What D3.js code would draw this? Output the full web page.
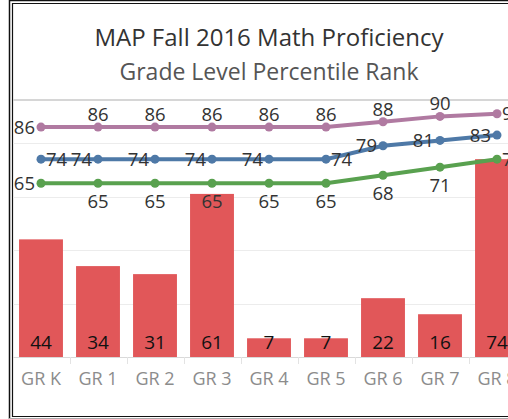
<!DOCTYPE html>
<html>
<head>
<meta charset="utf-8">
<script src="https://cdn.jsdelivr.net/npm/d3@7"></script>
<style>
  body { margin: 0; background: #fff; }
  svg { display: block; font-family: "Open Sans", sans-serif; }
</style>
</head>
<body>
<div id="chart"></div>
<script>
// chart values
var grades = ["GR K", "GR 1", "GR 2", "GR 3", "GR 4", "GR 5", "GR 6", "GR 7", "GR 8"];
var barValues = [44, 34, 31, 61, 7, 7, 22, 16, 74];
var pinkValues = [86, 86, 86, 86, 86, 86, 88, 90, 91];
var blueValues = [74, 74, 74, 74, 74, 74, 79, 81, 83];
var greenValues = [65, 65, 65, 65, 65, 65, 68, 71, 74];
var gridTicks = [20, 40, 60, 80];

var width = 508, height = 419;
var svg = d3.select("#chart").append("svg")
  .attr("width", width)
  .attr("height", height);

// frame lines
svg.append("path").attr("d", "M9.5,419 V0.5 H508").attr("fill", "none").attr("stroke", "#111").attr("stroke-width", 1.5);
svg.append("path").attr("d", "M508,3.5 H12.5 V416.5 H508").attr("fill", "none").attr("stroke", "#111").attr("stroke-width", 1.2);
svg.append("line").attr("x1", 9).attr("x2", 508).attr("y1", 418.5).attr("y2", 418.5).attr("stroke", "#aaa");

// titles
var title_x = 269;
svg.append("text")
  .text("MAP Fall 2016 Math Proficiency")
  .attr("x", title_x).attr("y", 46)
  .attr("text-anchor", "middle")
  .style("font-size", "24px")
  .style("fill", "#333");
svg.append("text")
  .text("Grade Level Percentile Rank")
  .attr("x", title_x).attr("y", 80)
  .attr("text-anchor", "middle")
  .style("font-size", "23px")
  .style("fill", "#555");

// scales
var plot_top = 99, plot_bottom = 357;
var x = d3.scaleBand().domain(grades).range([12.5, 525.5]).paddingInner(0.23).paddingOuter(0.115);
var step = x.step();
var y = d3.scaleLinear().domain([0, 96.5]).range([plot_bottom, plot_top]);
var cx = function(g) { return x(g) + x.bandwidth() / 2; };

// gridlines
svg.append("g").selectAll("line").data(gridTicks).join("line")
  .attr("x1", 13).attr("x2", width)
  .attr("y1", function(d) { return Math.round(y(d)) + 0.5; })
  .attr("y2", function(d) { return Math.round(y(d)) + 0.5; })
  .attr("stroke", "#ececec");

// top pane border
svg.append("line").attr("x1", 13).attr("x2", width).attr("y1", plot_top + 1).attr("y2", plot_top + 1)
  .attr("stroke", "#d6d6d6").attr("stroke-width", 2);

// bars
var bars = grades.map(function(g, i) { return { g: g, v: barValues[i] }; });
svg.append("g").selectAll("rect").data(bars).join("rect")
  .attr("x", function(d) { return x(d.g); })
  .attr("width", x.bandwidth())
  .attr("y", function(d) { return y(d.v); })
  .attr("height", function(d) { return plot_bottom - y(d.v); })
  .attr("fill", "#e15759");

svg.append("g").selectAll("text").data(bars).join("text")
  .text(function(d) { return d.v; })
  .attr("x", function(d) { return cx(d.g); })
  .attr("y", plot_bottom - 8)
  .attr("text-anchor", "middle")
  .style("font-size", "19px")
  .style("font-weight", "500")
  .style("fill", "#111");

// x axis
var xAxis = d3.axisBottom(x).tickSize(0).tickPadding(15);
var axisG = svg.append("g").attr("transform", "translate(0," + plot_bottom + ")").call(xAxis);
axisG.select(".domain").remove();
axisG.selectAll("text").style("font-size", "18px").style("fill", "#8c8c8c").style("font-family", "Open Sans, sans-serif");
svg.append("line").attr("x1", 13).attr("x2", width).attr("y1", plot_bottom + 0.5).attr("y2", plot_bottom + 0.5).attr("stroke", "#d9d9d9");
svg.append("g").selectAll("line").data(grades.slice(1)).join("line")
  .attr("x1", function(g) { return Math.round(x(g) - step * 0.115) + 0.5; })
  .attr("x2", function(g) { return Math.round(x(g) - step * 0.115) + 0.5; })
  .attr("y1", plot_bottom).attr("y2", plot_bottom + 7)
  .attr("stroke", "#e3e3e3");

// lines with labels; pos = where the value label sits
function drawLine(values, color, pos) {
  var pts = grades.map(function(g, i) { return { g: g, v: values[i], p: pos[i] }; });
  var line = d3.line().x(function(d) { return cx(d.g); }).y(function(d) { return y(d.v); });
  var g = svg.append("g");
  g.append("path").datum(pts).attr("d", line)
    .attr("fill", "none").attr("stroke", color).attr("stroke-width", 4);
  g.selectAll("circle").data(pts).join("circle")
    .attr("cx", function(d) { return cx(d.g); })
    .attr("cy", function(d) { return y(d.v); })
    .attr("r", 4.5)
    .attr("fill", color);
  g.selectAll("text").data(pts).join("text")
    .text(function(d) { return d.v; })
    .attr("x", function(d) {
      if (d.p == "left") return cx(d.g) - 6;
      if (d.p == "right") return cx(d.g) + 5;
      return cx(d.g);
    })
    .attr("y", function(d) {
      if (d.p == "above") return y(d.v) - 6;
      if (d.p == "below") return y(d.v) + 25;
      return y(d.v) + 6.5;
    })
    .attr("text-anchor", function(d) {
      if (d.p == "left") return "end";
      if (d.p == "right") return "start";
      return "middle";
    })
    .style("font-size", "18.5px")
    .style("fill", "#333");
}

drawLine(pinkValues, "#b07aa1", ["left", "above", "above", "above", "above", "above", "above", "above", "right"]);
drawLine(blueValues, "#4e79a7", ["right", "left", "left", "left", "left", "right", "left", "left", "left"]);
drawLine(greenValues, "#59a14f", ["left", "below", "below", "below", "below", "below", "below", "below", "right"]);
</script>
</body>
</html>
